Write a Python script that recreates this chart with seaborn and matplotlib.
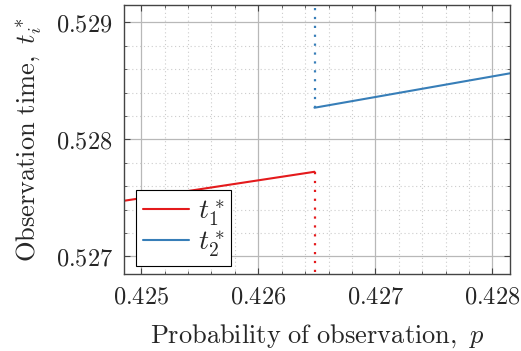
import matplotlib
matplotlib.use("Agg")
import matplotlib.pyplot as plt
import seaborn as sns
import pandas as pd
from matplotlib.ticker import FixedLocator, MultipleLocator, FixedFormatter

# data
p_t1 = [0.42485, 0.42648]
t1 = [0.527475, 0.527723]
p_t2 = [0.42648, 0.42815]
t2 = [0.52827, 0.528564]
x_ticks = [0.425, 0.426, 0.427, 0.428]
y_ticks = [0.527, 0.528, 0.529]
x_tick_labels = ["0.425", "0.426", "0.427", "0.428"]
y_tick_labels = ["0.527", "0.528", "0.529"]
xlim = (0.42485, 0.42815)
ylim = (0.52685, 0.52915)

sns.set_theme(style="white")
plt.rcParams["mathtext.fontset"] = "cm"
plt.rcParams["font.family"] = ["DejaVu Serif"]

red = "#e41a1c"
blue = "#377eb8"

fig = plt.figure(figsize=(5.21, 3.51), dpi=100)
ax = fig.add_axes([0.2374, 0.2194, 0.9789 - 0.2374, 0.9866 - 0.2194])

df1 = pd.DataFrame({"p": p_t1, "t": t1})
df2 = pd.DataFrame({"p": p_t2, "t": t2})
sns.lineplot(data=df1, x="p", y="t", ax=ax, color=red, lw=1.5, label=r"$t_1^*$")
sns.lineplot(data=df2, x="p", y="t", ax=ax, color=blue, lw=1.5, label=r"$t_2^*$")

# dotted vertical connectors
ax.plot([p_t1[-1], p_t1[-1]], [t1[-1], ylim[0]], color=red, lw=1.6, ls=(0, (1, 3)), zorder=3)
ax.plot([p_t2[0], p_t2[0]], [t2[0], ylim[1]], color=blue, lw=1.6, ls=(0, (1, 3)), zorder=3)

ax.set_xlim(*xlim)
ax.set_ylim(*ylim)
ax.xaxis.set_major_locator(FixedLocator(x_ticks))
ax.yaxis.set_major_locator(FixedLocator(y_ticks))
ax.xaxis.set_major_formatter(FixedFormatter(["$" + s + "$" for s in x_tick_labels]))
ax.yaxis.set_major_formatter(FixedFormatter(["$" + s + "$" for s in y_tick_labels]))
ax.xaxis.set_minor_locator(MultipleLocator(0.0002))
ax.yaxis.set_minor_locator(MultipleLocator(0.0002))

ax.grid(True, which="major", color="#b8b8b8", lw=0.9, ls="-")
ax.grid(True, which="minor", color="#cccccc", lw=0.8, ls=(0, (1, 2.5)))
ax.set_axisbelow(True)

ax.tick_params(which="both", direction="in", top=True, right=True, bottom=True, left=True,
               color="#444444", labelsize=17.5, pad=8)
ax.tick_params(which="major", length=4, width=0.8)
ax.tick_params(which="minor", length=2.5, width=0.6)
for s in ax.spines.values():
    s.set_color("#444444")
    s.set_linewidth(1.0)

ax.set_xlabel(r"$\mathrm{Probability\ of\ observation,}\ p$", fontsize=19, labelpad=10)
ax.set_ylabel(r"$\mathrm{Observation\ time,}\ t_i^*$", fontsize=19, labelpad=8)

leg = ax.legend(loc="lower left", bbox_to_anchor=(0.033, 0.029), fontsize=20,
                frameon=True, fancybox=False, edgecolor="black", framealpha=1,
                handlelength=1.65, borderpad=0.25, labelspacing=0.02, handletextpad=0.3,
                borderaxespad=0)
leg.get_frame().set_linewidth(0.8)

fig.savefig("out.png", dpi=100)
